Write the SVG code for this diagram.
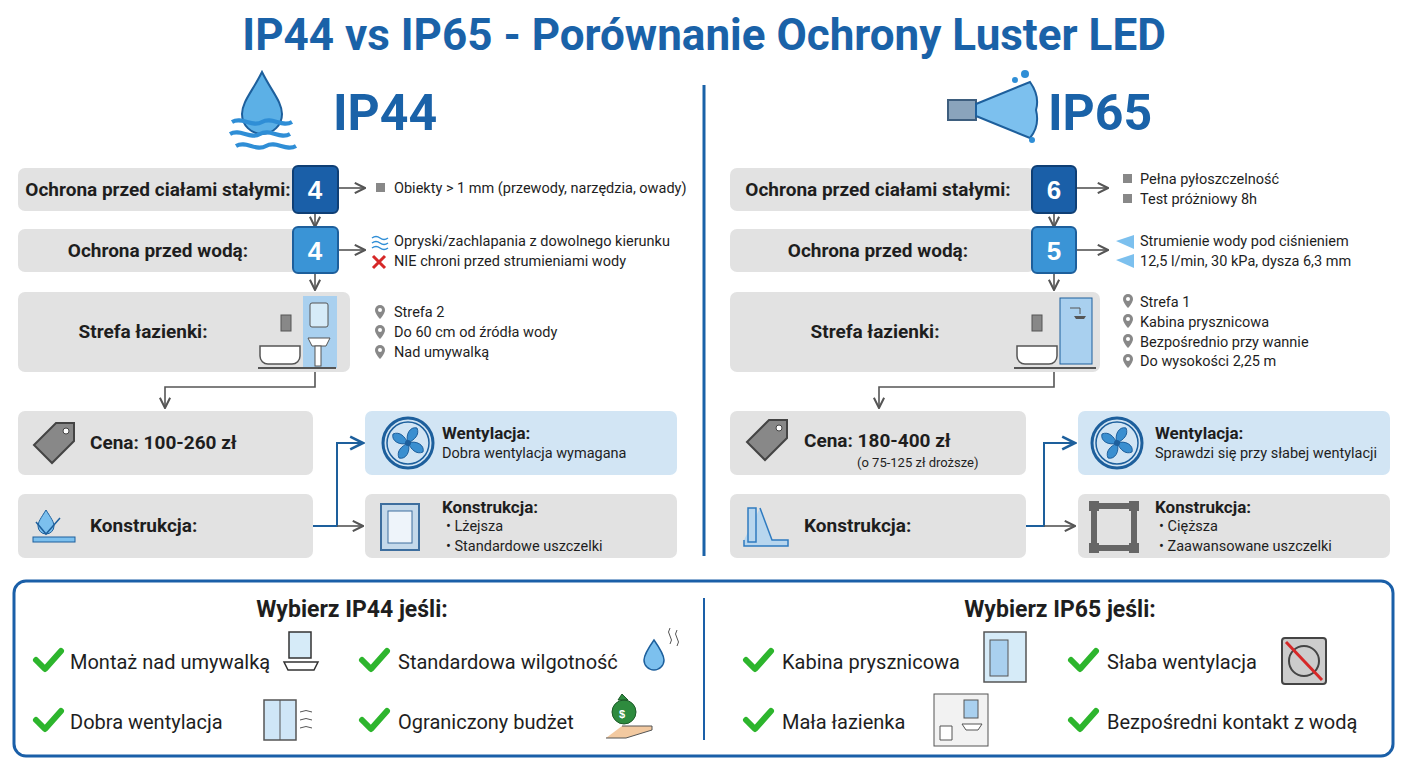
<svg xmlns="http://www.w3.org/2000/svg" width="1408" height="768" viewBox="0 0 1408 768">
<defs>
<style>
text{font-family:"Liberation Sans",Arial,sans-serif;fill:#1e1e1e}
.t{font-family:Roboto,"Liberation Sans",sans-serif;font-weight:bold;font-size:19px}
.s{font-family:Roboto,"Liberation Sans",sans-serif;font-size:14.5px}
.b{fill:#e2e2e2}
.lb{fill:#d2e5f4}
.c{fill:none;stroke:#555;stroke-width:1.6}
.cb{fill:none;stroke:#1d5f9c;stroke-width:2}
.ck{fill:none;stroke:#2db52d;stroke-width:6;stroke-linecap:round;stroke-linejoin:round}
.it{font-family:Roboto,"Liberation Sans",sans-serif;font-size:20px}
.pin{fill:#888}
</style>
<marker id="a" viewBox="0 0 10 10" refX="9" refY="5" markerWidth="8" markerHeight="8" orient="auto"><path d="M1 1L9 5L1 9" fill="none" stroke="#555" stroke-width="1.6"/></marker>
<marker id="ab" viewBox="0 0 10 10" refX="9" refY="5" markerWidth="8" markerHeight="8" orient="auto"><path d="M1 1L9 5L1 9" fill="none" stroke="#1d5f9c" stroke-width="1.6"/></marker>
<g id="pin"><path d="M0 -7a5 5 0 0 1 5 5c0 4-5 9-5 9s-5-5-5-9a5 5 0 0 1 5-5z" class="pin"/><circle cy="-2" r="2" fill="#fff"/></g>
<g id="fan"><circle r="25" fill="none" stroke="#1d5f9c" stroke-width="3"/><circle r="21" fill="none" stroke="#1d5f9c" stroke-width="1.5"/><g fill="#3a8fd0" stroke="#1d5f9c"><path d="M0 0C-3-8 2-17 9-15C12-8 6-3 0 0z"/><path d="M0 0C8-3 17 2 15 9C8 12 3 6 0 0z"/><path d="M0 0C3 8-2 17-9 15C-12 8-6 3 0 0z"/><path d="M0 0C-8 3-17-2-15-9C-8-12-3-6 0 0z"/></g><circle r="3" fill="#1d5f9c"/></g>
<g id="tag"><path d="M-20 2L2-20L20-20L20-2L-2 20Z" fill="#888" stroke="#444" stroke-width="2"/><circle cx="12" cy="-12" r="3" fill="#fff" stroke="#444"/></g>
</defs>
<rect width="1408" height="768" fill="#fff"/>
<text x="704" y="50" text-anchor="middle" font-size="44" font-weight="bold" style="fill:#1a62a8;font-family:Roboto,'Liberation Sans',sans-serif">IP44 vs IP65 - Porównanie Ochrony Luster LED</text>
<line x1="704" y1="85" x2="704" y2="556" stroke="#1a62a8" stroke-width="3"/>

<g id="h44">
<path d="M262 72C252 92 242 102 242 114a20 20 0 0 0 40 0c0-12-10-22-20-42z" fill="#5cb0e6" stroke="#1d5f9c" stroke-width="2"/>
<path d="M232 122c10-6 20 6 30 0s20 6 30 0M230 134c10-6 20 6 30 0s20 6 30 0M236 146c10-6 20 6 30 0s20 6 30 0" fill="none" stroke="#2f8ed6" stroke-width="4"/>
<text x="333" y="130" font-size="50" font-weight="bold" style="fill:#1a62a8;font-family:Roboto,'Liberation Sans',sans-serif">IP44</text>
</g>
<g id="h65">
<rect x="948" y="100" width="28" height="20" fill="#8aa4bc" stroke="#3e5e7e" stroke-width="2"/>
<path d="M976 104L1030 82Q1040 96 1036 110Q1040 126 1030 138L976 116Z" fill="#7cc0ee" stroke="#1d5f9c" stroke-width="2"/>
<circle cx="1015" cy="80" r="3" fill="#2f8ed6"/><circle cx="1025" cy="74" r="4" fill="#2f8ed6"/><circle cx="1032" cy="140" r="3" fill="#2f8ed6"/>
<text x="1048" y="130" font-size="50" font-weight="bold" style="fill:#1a62a8;font-family:Roboto,'Liberation Sans',sans-serif">IP65</text>
</g>

<g id="connectors">
<line x1="338" y1="188" x2="365" y2="188" class="c" marker-end="url(#a)"/>
<line x1="315" y1="213" x2="315" y2="227" class="c" marker-end="url(#a)"/>
<line x1="338" y1="250" x2="365" y2="250" class="c" marker-end="url(#a)"/>
<line x1="315" y1="273" x2="315" y2="290" class="c" marker-end="url(#a)"/>
<path d="M315 372V387H165V408" class="c" marker-end="url(#a)"/>
<path d="M313 526H337V443H363" class="cb" marker-end="url(#ab)"/>
<line x1="337" y1="526" x2="363" y2="526" class="c" marker-end="url(#a)"/>
<line x1="1076" y1="188" x2="1108" y2="188" class="c" marker-end="url(#a)"/>
<line x1="1054" y1="213" x2="1054" y2="227" class="c" marker-end="url(#a)"/>
<line x1="1076" y1="250" x2="1108" y2="250" class="c" marker-end="url(#a)"/>
<line x1="1054" y1="273" x2="1054" y2="290" class="c" marker-end="url(#a)"/>
<path d="M1054 372V387H879V408" class="c" marker-end="url(#a)"/>
<path d="M1026 526H1044V443H1075" class="cb" marker-end="url(#ab)"/>
<line x1="1044" y1="526" x2="1075" y2="526" class="c" marker-end="url(#a)"/>
</g>

<g id="l-solid"><rect x="18" y="168" width="292" height="43" rx="7" class="b"/><text x="158" y="196" text-anchor="middle" class="t">Ochrona przed ciałami stałymi:</text>
<rect x="293" y="166" width="45" height="47" rx="5" fill="#1a5fa8" stroke="#0f3f75" stroke-width="2"/><text x="315" y="199" text-anchor="middle" font-size="26" font-weight="bold" style="fill:#fff">4</text></g>
<g id="l-solid-info"><rect x="376" y="183" width="9" height="9" fill="#888"/><text x="394" y="193" class="s">Obiekty &gt; 1 mm (przewody, narzędzia, owady)</text></g>
<g id="l-water"><rect x="18" y="229" width="292" height="43" rx="7" class="b"/><text x="158" y="257" text-anchor="middle" class="t">Ochrona przed wodą:</text>
<rect x="293" y="227" width="45" height="46" rx="5" fill="#3a94d6" stroke="#1d5f9c" stroke-width="2"/><text x="315" y="260" text-anchor="middle" font-size="26" font-weight="bold" style="fill:#fff">4</text></g>
<g id="l-water-info"><path d="M372 238q4-3 8 0t8 0M372 243q4-3 8 0t8 0M372 248q4-3 8 0t8 0" fill="none" stroke="#2f8ed6" stroke-width="1.5"/><text x="394" y="246" class="s">Opryski/zachlapania z dowolnego kierunku</text>
<path d="M373 256l12 12M385 256l-12 12" stroke="#d62828" stroke-width="3"/><text x="394" y="266" class="s">NIE chroni przed strumieniami wody</text></g>
<g id="l-zone"><rect x="18" y="292" width="332" height="80" rx="7" class="b"/><text x="143" y="338" text-anchor="middle" class="t">Strefa łazienki:</text>
<rect x="303" y="296" width="34" height="72" fill="#a9d0ef"/><rect x="310" y="303" width="18" height="24" rx="2" fill="#d6ebf8" stroke="#555"/>
<path d="M308 338h22l-4 8h-14z" fill="#fff" stroke="#555"/><rect x="315" y="346" width="6" height="20" fill="#fff" stroke="#555"/>
<rect x="281" y="315" width="10" height="16" fill="#888" stroke="#555"/><path d="M260 346h40v10a8 8 0 0 1-8 8h-24a8 8 0 0 1-8-8z" fill="#fff" stroke="#555" stroke-width="1.5"/><line x1="258" y1="368" x2="336" y2="368" stroke="#555" stroke-width="2"/></g>
<g id="l-zone-info"><use href="#pin" x="380" y="312"/><text x="394" y="317" class="s">Strefa 2</text><use href="#pin" x="380" y="332"/><text x="394" y="337" class="s">Do 60 cm od źródła wody</text><use href="#pin" x="380" y="352"/><text x="394" y="357" class="s">Nad umywalką</text></g>
<g id="l-price"><rect x="18" y="411" width="295" height="64" rx="7" class="b"/><use href="#tag" x="54" y="443"/><text x="90" y="449" class="t">Cena: 100-260 zł</text></g>
<g id="l-build"><rect x="18" y="494" width="295" height="64" rx="7" class="b"/>
<path d="M46 510c-5 8-8 12-8 16a8 8 0 0 0 16 0c0-4-3-8-8-16z" fill="#7cc0ee" stroke="#1d5f9c"/><path d="M36 522l10 12l14-16" fill="none" stroke="#1d5f9c" stroke-width="1.5"/><rect x="33" y="537" width="42" height="5" fill="#7cc0ee" stroke="#1d5f9c"/>
<text x="90" y="532" class="t">Konstrukcja:</text></g>
<g id="l-vent"><rect x="365" y="411" width="312" height="64" rx="7" class="lb"/><use href="#fan" x="408" y="443"/><text x="442" y="439" class="t" style="font-size:17px">Wentylacja:</text><text x="442" y="458" class="s">Dobra wentylacja wymagana</text></g>
<g id="l-cons"><rect x="365" y="494" width="312" height="64" rx="7" class="b"/><rect x="381" y="504" width="38" height="46" fill="#c5d9ea" stroke="#3e6e9e" stroke-width="2"/><rect x="388" y="511" width="24" height="32" fill="#eef4fa" stroke="#3e6e9e"/>
<text x="442" y="513" class="t" style="font-size:17px">Konstrukcja:</text><text x="446" y="531" class="s">•  Lżejsza</text><text x="446" y="551" class="s">•  Standardowe uszczelki</text></g>

<g id="r-solid"><rect x="730" y="168" width="305" height="43" rx="7" class="b"/><text x="878" y="196" text-anchor="middle" class="t">Ochrona przed ciałami stałymi:</text>
<rect x="1032" y="166" width="44" height="47" rx="5" fill="#1a5fa8" stroke="#0f3f75" stroke-width="2"/><text x="1054" y="199" text-anchor="middle" font-size="26" font-weight="bold" style="fill:#fff">6</text></g>
<g id="r-solid-info"><rect x="1123" y="174" width="9" height="9" fill="#888"/><text x="1140" y="184" class="s">Pełna pyłoszczelność</text><rect x="1123" y="194" width="9" height="9" fill="#888"/><text x="1140" y="204" class="s">Test próżniowy 8h</text></g>
<g id="r-water"><rect x="730" y="229" width="305" height="43" rx="7" class="b"/><text x="878" y="257" text-anchor="middle" class="t">Ochrona przed wodą:</text>
<rect x="1032" y="227" width="44" height="46" rx="5" fill="#3a94d6" stroke="#1d5f9c" stroke-width="2"/><text x="1054" y="260" text-anchor="middle" font-size="26" font-weight="bold" style="fill:#fff">5</text></g>
<g id="r-water-info"><path d="M1116 241l18-6v14z" fill="#7cc0ee"/><text x="1140" y="246" class="s">Strumienie wody pod ciśnieniem</text><path d="M1116 260l18-6v14z" fill="#7cc0ee"/><text x="1140" y="266" class="s">12,5 l/min, 30 kPa, dysza 6,3 mm</text></g>
<g id="r-zone"><rect x="730" y="292" width="370" height="80" rx="7" class="b"/><text x="875" y="338" text-anchor="middle" class="t">Strefa łazienki:</text>
<rect x="1060" y="298" width="32" height="66" fill="#a9d0ef" stroke="#1d5f9c"/><path d="M1070 308h10v6" fill="none" stroke="#555"/><path d="M1074 316h12l-2 3h-8z" fill="#555"/>
<rect x="1032" y="315" width="10" height="16" fill="#888" stroke="#555"/><path d="M1017 346h40v10a8 8 0 0 1-8 8h-24a8 8 0 0 1-8-8z" fill="#fff" stroke="#555" stroke-width="1.5"/><line x1="1014" y1="368" x2="1096" y2="368" stroke="#555" stroke-width="2"/></g>
<g id="r-zone-info"><use href="#pin" x="1128" y="301"/><text x="1140" y="307" class="s">Strefa 1</text><use href="#pin" x="1128" y="321"/><text x="1140" y="327" class="s">Kabina prysznicowa</text><use href="#pin" x="1128" y="341"/><text x="1140" y="347" class="s">Bezpośrednio przy wannie</text><use href="#pin" x="1128" y="361"/><text x="1140" y="366" class="s">Do wysokości 2,25 m</text></g>
<g id="r-price"><rect x="730" y="411" width="296" height="64" rx="7" class="b"/><use href="#tag" x="767" y="440"/><text x="804" y="447" class="t">Cena: 180-400 zł</text><text x="857" y="467" class="s" style="font-size:13px">(o 75-125 zł droższe)</text></g>
<g id="r-build"><rect x="730" y="494" width="296" height="64" rx="7" class="b"/>
<path d="M748 508h8v34h-8zM760 508l12 32h16v6h-44v-6" fill="#b8d6ee" stroke="#2f7bc0" stroke-width="1.5"/>
<text x="804" y="532" class="t">Konstrukcja:</text></g>
<g id="r-vent"><rect x="1078" y="411" width="312" height="64" rx="7" class="lb"/><use href="#fan" x="1117" y="443"/><text x="1155" y="439" class="t" style="font-size:17px">Wentylacja:</text><text x="1155" y="458" class="s">Sprawdzi się przy słabej wentylacji</text></g>
<g id="r-cons"><rect x="1078" y="494" width="312" height="64" rx="7" class="b"/><rect x="1094" y="506" width="40" height="42" fill="none" stroke="#666" stroke-width="6"/><rect x="1089" y="501" width="10" height="10" fill="#666"/><rect x="1129" y="501" width="10" height="10" fill="#666"/><rect x="1089" y="543" width="10" height="10" fill="#666"/><rect x="1129" y="543" width="10" height="10" fill="#666"/>
<text x="1155" y="513" class="t" style="font-size:17px">Konstrukcja:</text><text x="1159" y="531" class="s">•  Cięższa</text><text x="1159" y="551" class="s">•  Zaawansowane uszczelki</text></g>

<g id="bottom">
<rect x="14" y="581" width="1379" height="175" rx="12" fill="#fff" stroke="#1a5fa8" stroke-width="3"/>
<line x1="704" y1="598" x2="704" y2="740" stroke="#1a5fa8" stroke-width="2"/>
<text x="352" y="617" text-anchor="middle" class="t" style="font-size:23px">Wybierz IP44 jeśli:</text>
<text x="1060" y="617" text-anchor="middle" class="t" style="font-size:23px">Wybierz IP65 jeśli:</text>
<path d="M36 660l9 9l16-18" class="ck"/><text x="70" y="669" class="it">Montaż nad umywalką</text>
<path d="M362 660l9 9l16-18" class="ck"/><text x="398" y="669" class="it">Standardowa wilgotność</text>
<path d="M36 720l9 9l16-18" class="ck"/><text x="70" y="729" class="it">Dobra wentylacja</text>
<path d="M362 720l9 9l16-18" class="ck"/><text x="398" y="729" class="it">Ograniczony budżet</text>
<path d="M746 660l9 9l16-18" class="ck"/><text x="782" y="669" class="it">Kabina prysznicowa</text>
<path d="M1071 660l9 9l16-18" class="ck"/><text x="1107" y="669" class="it">Słaba wentylacja</text>
<path d="M746 720l9 9l16-18" class="ck"/><text x="782" y="729" class="it">Mała łazienka</text>
<path d="M1071 720l9 9l16-18" class="ck"/><text x="1107" y="729" class="it">Bezpośredni kontakt z wodą</text>
<rect x="289" y="632" width="22" height="26" fill="#d6ebf8" stroke="#333" stroke-width="1.5"/><path d="M284 662h34l-4 8h-26z" fill="#fff" stroke="#333" stroke-width="1.5"/>
<path d="M654 640c-7 10-10 15-10 20a10 10 0 0 0 20 0c0-5-3-10-10-20z" fill="#7cc0ee" stroke="#1d5f9c" stroke-width="1.5"/><path d="M670 644q3-4 0-8t0-8M677 646q3-4 0-8t0-8" fill="none" stroke="#555"/>
<rect x="264" y="700" width="32" height="40" fill="#cfe6f7" stroke="#555" stroke-width="1.5"/><line x1="280" y1="700" x2="280" y2="740" stroke="#555"/><path d="M300 712q6-3 12 0M300 720q6-3 12 0M300 728q6-3 12 0" fill="none" stroke="#555"/>
<path d="M622 694l6 6h-10zM612 712a12 12 0 0 1 24 0a10 10 0 0 1-24 0" fill="#2e8b3e" stroke="#1d5a28"/><text x="619" y="718" font-size="11" style="fill:#fff" font-weight="bold">$</text><path d="M606 738h20l26-8v-4h-30" fill="#f2c9a0" stroke="#555"/>
<rect x="984" y="632" width="42" height="50" fill="#d6ebf8" stroke="#555" stroke-width="1.5"/><rect x="990" y="640" width="18" height="36" fill="#a9d0ef" stroke="#555"/>
<rect x="1282" y="638" width="44" height="46" rx="3" fill="#ccc" stroke="#444" stroke-width="2"/><circle cx="1304" cy="661" r="15" fill="none" stroke="#444" stroke-width="2"/><line x1="1286" y1="642" x2="1322" y2="680" stroke="#d62828" stroke-width="3"/>
<rect x="934" y="694" width="54" height="52" fill="#f2f2f2" stroke="#555"/><rect x="964" y="700" width="14" height="18" fill="#a9d0ef" stroke="#555"/><path d="M940 726h12v14h-12zM962 724h20l-4 6h-12z" fill="#fff" stroke="#555"/>
</g>
</svg>
